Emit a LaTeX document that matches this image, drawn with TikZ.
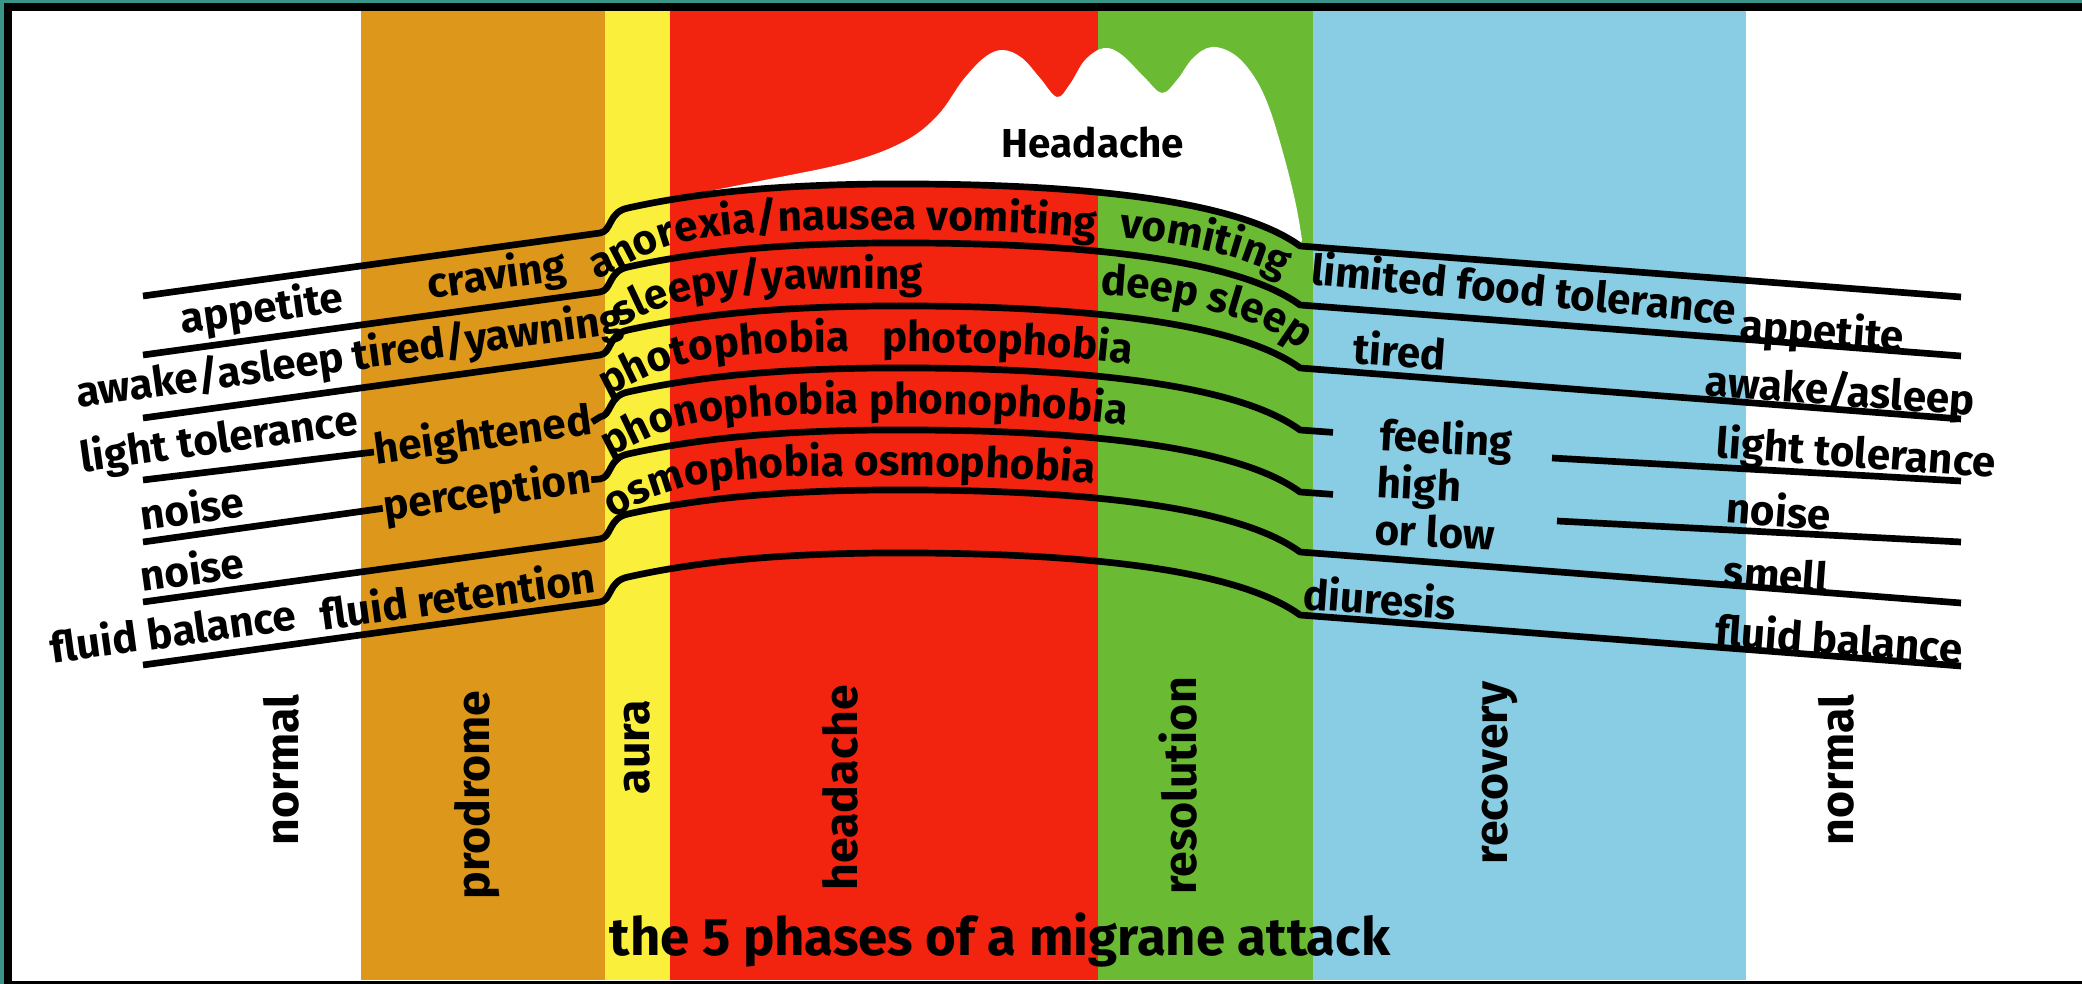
\documentclass[tikz,border=0pt]{standalone}
\usepackage{fontspec}
\setmainfont{Fira Sans}
\usetikzlibrary{decorations.text}

\definecolor{frameteal}{RGB}{58,148,136}
\definecolor{prodromeorange}{RGB}{221,151,26}
\definecolor{aurayellow}{RGB}{250,239,58}
\definecolor{headachered}{RGB}{242,36,16}
\definecolor{resolutiongreen}{RGB}{106,186,52}
\definecolor{recoveryblue}{RGB}{136,205,227}

\newcommand\lblfont{\bfseries\fontsize{12}{13.4}\selectfont}

\begin{document}
\begin{tikzpicture}[
  x=0.1mm, y=-0.1mm,
  lbl/.style = {font=\lblfont, inner sep=0pt},
  leftlbl/.style = {lbl, rotate=7.85},
  rightlbl/.style = {lbl, rotate=-4.2},
  phaselbl/.style = {font=\bfseries\fontsize{13.2}{15}\selectfont, rotate=90, inner sep=0pt},
  rowline/.style = {line width=1.9pt, line join=round},
  archpath/.style = {insert path={.. controls (612,231.4) and (608,212) .. (628,208)
    .. controls (700,192) and (780,185) .. (880,184)
    .. controls (1050,183) and (1230,195) .. (1300,246)}},
  textbase/.style = {insert path={.. controls (628,268) and (650,245) .. (710,237)
    .. controls (780,229) and (820,230) .. (880,230)
    .. controls (1050,229) and (1230,241) .. (1300,292) -- (1330,327)}},
  crestbase/.style = {insert path={.. controls (1050,229) and (1230,241) .. (1300,292) -- (1330,327)}},
  dropbase/.style = {insert path={.. controls (1170,240) and (1260,256) .. (1300,290) -- (1335,320)}},
  alongtext/.style = {decorate, decoration={text along path, text={|\lblfont|#1}}},
]
  \useasboundingbox (0,0) rectangle (2082,984);
  \fill[frameteal] (0,0) rectangle (2082,984);
  \fill[black] (4,3) rectangle (2082,984);
  \fill[white] (12,11) rectangle (2082,981);
  \fill[prodromeorange] (361,11) rectangle (605,980);
  \fill[aurayellow] (605,11) rectangle (670,980);
  \fill[headachered] (670,11) rectangle (1098,980);
  \fill[resolutiongreen] (1098,11) rectangle (1313,980);
  \fill[recoveryblue] (1313,11) rectangle (1746,980);

  \fill[white] plot[smooth, tension=0.6] coordinates {(668,199) (760,181) (850,162) (905,141)
    (938,115) (963,80) (985,57) (1003,50) (1022,58) (1040,78) (1057,97) (1070,84) (1085,60)
    (1104,48) (1122,55) (1145,78) (1162,93) (1177,80) (1193,58) (1212,47) (1235,55) (1255,78)
    (1270,110) (1285,160) (1296,205) (1302,240)}
    -- (1300,246) .. controls (1230,195) and (1050,183) .. (880,184)
    .. controls (780,185) and (700,192) .. (628,208) -- cycle;

  \node[font=\bfseries\fontsize{11.5}{14}\selectfont] (headachelbl) at (1093,143) {Headache};

  \node[leftlbl] (appetiteL)  at (262,310) {appetite};
  \node[leftlbl] (craving)    at (497,277) {craving};
  \node[leftlbl] (awakeL)     at (210,377) {awake/asleep};
  \node[leftlbl] (tiredyawn)  at (488,339) {tired/yawning};
  \node[leftlbl] (lightL)     at (219,441) {light tolerance};
  \node[leftlbl] (heightened) at (483,437) {heightened};
  \node[leftlbl] (noiseL)     at (192,507) {noise};
  \node[leftlbl] (perception) at (487,494) {perception};
  \node[leftlbl] (noiseLL)    at (192,568) {noise};
  \node[leftlbl] (fluidL)     at (173,630) {fluid balance};
  \node[leftlbl] (retention)  at (457,595) {fluid retention};

  \node[lbl, rotate=-5.5] (limited) at (1524,288) {limited food tolerance};
  \node[rightlbl] (appetiteR) at (1822,333) {appetite};
  \node[rightlbl] (tiredR)    at (1400,350) {tired};
  \node[rightlbl] (awakeR)    at (1840,393) {awake/asleep};
  \node[lbl, align=left, rotate=-3] (feeling) at (1444,484) {feeling\\high\\or low};
  \node[rightlbl] (lightR)    at (1856,455) {light tolerance};
  \node[rightlbl] (noiseR)    at (1779,510) {noise};
  \node[rightlbl] (smell)     at (1776,574) {smell};
  \node[rightlbl] (diuresis)  at (1380,598) {diuresis};
  \node[rightlbl] (fluidR)    at (1839,638) {fluid balance};

  \node[phaselbl] (normalL)    at (281,770)  {normal};
  \node[phaselbl] (prodrome)   at (477,795)  {prodrome};
  \node[phaselbl] (aura)       at (637,747)  {aura};
  \node[phaselbl] (headache)   at (840,788)  {headache};
  \node[phaselbl] (resolution) at (1178,786) {resolution};
  \node[phaselbl] (recovery)   at (1500,773) {recovery};
  \node[phaselbl] (normalR)    at (1836,770) {normal};
  \node[font=\bfseries\fontsize{15}{18}\selectfont] (title) at (1000,940) {the 5 phases of a migrane attack};

  \draw[rowline] (143,296) -- (600,233) [archpath] -- (1961,297);
  \draw[rowline, shift={(0,59)}] (143,296) -- (600,233) [archpath] -- (1961,297);
  \draw[rowline, shift={(0,122)}] (143,296) -- (600,233) [archpath] -- (1961,297);
  \draw[rowline] (143,480) -- (heightened.west);
  \draw[rowline, shift={(0,184)}] (heightened.east) -- (600,233) [archpath] -- (1333,248.4);
  \draw[rowline] (1552,458) -- (1961,481);
  \draw[rowline] (143,542) -- (perception.west);
  \draw[rowline, shift={(0,246)}] (perception.east) -- (600,233) [archpath] -- (1333,248.4);
  \draw[rowline] (1557,521) -- (1961,542);
  \draw[rowline, shift={(0,306)}] (143,296) -- (600,233) [archpath] -- (1961,297);
  \draw[rowline, shift={(0,369)}] (143,296) -- (600,233) [archpath] -- (1961,297);

  \path[alongtext={anorexia/nausea vomiting}] (596,279) [textbase];
  \path[alongtext={sleepy/yawning}, shift={(0,59)}, decoration={text align={left indent=7.5pt}}] (596,279) [textbase];
  \path[alongtext=photophobia, shift={(0,122)}, decoration={text align={left indent=3.5pt}}] (596,279) [textbase];
  \path[alongtext=photophobia, shift={(0,122)}] (882,230) [crestbase];
  \path[alongtext={phonophobia phonophobia}, shift={(0,184)}, decoration={text align={left indent=4pt}}] (596,279) [textbase];
  \path[alongtext={osmophobia osmophobia}, shift={(0,246)}, decoration={text align={left indent=5pt}}] (596,279) [textbase];
  \path[alongtext=vomiting, decoration={text align={left indent=5.5pt}}] (1100,236) [dropbase];
  \path[alongtext={deep sleep}, shift={(0,59)}] (1100,236) [dropbase];
\end{tikzpicture}
\end{document}
